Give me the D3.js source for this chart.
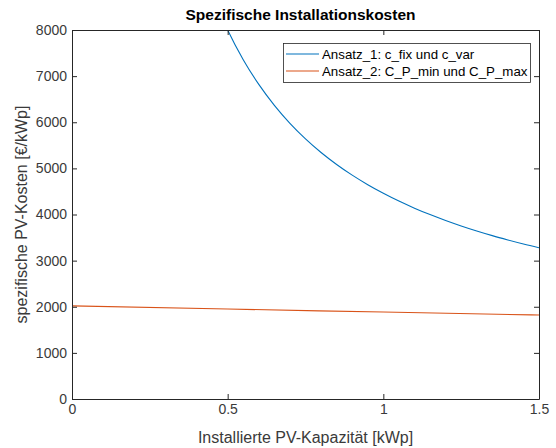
<html>
<head>
<meta charset="utf-8">
<script src="https://cdn.jsdelivr.net/npm/d3@7"></script>
<style>
  body { margin: 0; background: #fff; }
  text { font-family: "Liberation Sans", Arial, sans-serif; }
</style>
</head>
<body>
<div id="chart"></div>
<script>
// x values (kWp) and series
var xBlue = [0.45, 0.5, 0.55, 0.6, 0.65, 0.7, 0.75, 0.8, 0.85, 0.9, 0.95, 1.0,
             1.05, 1.1, 1.15, 1.2, 1.25, 1.3, 1.35, 1.4, 1.45, 1.5];
var ansatz1 = [8787, 8000, 7356, 6820, 6366, 5977, 5640, 5345, 5085, 4853, 4646, 4460,
               4291, 4138, 3998, 3870, 3752, 3643, 3542, 3449, 3361, 3280];
var xOrange = [0, 0.5, 1.0, 1.5];
var ansatz2 = [2020, 1950, 1885, 1820];
var xTicks = [0, 0.5, 1, 1.5];
var yTicks = [0, 1000, 2000, 3000, 4000, 5000, 6000, 7000, 8000];
var seriesNames = ["Ansatz_1: c_fix und c_var", "Ansatz_2: C_P_min und C_P_max"];
var colors = ["#0072BD", "#D95319"];

var W = 556, H = 448;
var pL = 72, pR = 539, pT = 30, pB = 399;

var svg = d3.select("#chart").append("svg").attr("width", W).attr("height", H);

var x = d3.scaleLinear().domain([0, 1.5]).range([pL, pR]);
var y = d3.scaleLinear().domain([0, 8000]).range([pB, pT]);

svg.append("clipPath").attr("id", "clip")
  .append("rect").attr("x", pL).attr("y", pT)
  .attr("width", pR - pL).attr("height", pB - pT);

var line = d3.line()
  .x(function (d) { return x(d[0]); })
  .y(function (d) { return y(d[1]); })
  .curve(d3.curveMonotoneX);

var g = svg.append("g").attr("clip-path", "url(#clip)");
g.append("path")
  .datum(d3.zip(xBlue, ansatz1))
  .attr("d", line).attr("fill", "none")
  .attr("stroke", colors[0]).attr("stroke-width", 1.1);
g.append("path")
  .datum(d3.zip(xOrange, ansatz2))
  .attr("d", line).attr("fill", "none")
  .attr("stroke", colors[1]).attr("stroke-width", 1.1);

// axes, MATLAB style: ticks inward on all four sides
var axCol = "#262626";
var xb = svg.append("g").attr("transform", "translate(0," + pB + ")")
  .call(d3.axisBottom(x).tickValues(xTicks).tickFormat(d3.format("")).tickSizeInner(-5).tickSizeOuter(0).tickPadding(5));
var xt = svg.append("g").attr("transform", "translate(0," + pT + ")")
  .call(d3.axisTop(x).tickValues(xTicks).tickFormat("").tickSizeInner(-5).tickSizeOuter(0));
var yl = svg.append("g").attr("transform", "translate(" + pL + ",0)")
  .call(d3.axisLeft(y).tickValues(yTicks).tickFormat(d3.format("d")).tickSizeInner(-5).tickSizeOuter(0).tickPadding(5));
var yr = svg.append("g").attr("transform", "translate(" + pR + ",0)")
  .call(d3.axisRight(y).tickValues(yTicks).tickFormat("").tickSizeInner(-5).tickSizeOuter(0));

[xb, xt, yl, yr].forEach(function (a) {
  a.select(".domain").attr("stroke", axCol);
  a.selectAll(".tick line").attr("stroke", axCol);
  a.selectAll("text").attr("fill", "#3a3a3a").style("font-size", "14px")
    .style("font-family", "Liberation Sans, Arial, sans-serif");
});

// title and axis labels
svg.append("text").attr("x", (pL + pR) / 2 - 5).attr("y", 20)
  .attr("text-anchor", "middle").style("font-size", "15.5px").style("font-weight", "bold")
  .attr("fill", "#000").text("Spezifische Installationskosten");
svg.append("text").attr("x", (pL + pR) / 2 + 0).attr("y", 443)
  .attr("text-anchor", "middle").style("font-size", "16px").attr("fill", "#3a3a3a")
  .text("Installierte PV-Kapazität [kWp]");
svg.append("text")
  .attr("transform", "translate(27," + (pT + pB) / 2 + ") rotate(-90)")
  .attr("text-anchor", "middle").style("font-size", "16px").attr("fill", "#3a3a3a")
  .text("spezifische PV-Kosten [€/kWp]");

// legend
var lg = svg.append("g");
lg.append("rect").attr("x", 283.5).attr("y", 43.5).attr("width", 247).attr("height", 39)
  .attr("fill", "#fff").attr("stroke", axCol).attr("stroke-width", 0.8);
seriesNames.forEach(function (name, i) {
  var ly = 54 + i * 17;
  lg.append("line").attr("x1", 286).attr("x2", 319).attr("y1", ly).attr("y2", ly)
    .attr("stroke", colors[i]).attr("stroke-width", 1.1);
  lg.append("text").attr("x", 322).attr("y", ly + 4.5)
    .style("font-size", "13.3px").attr("fill", "#000").text(name);
});
</script>
</body>
</html>
